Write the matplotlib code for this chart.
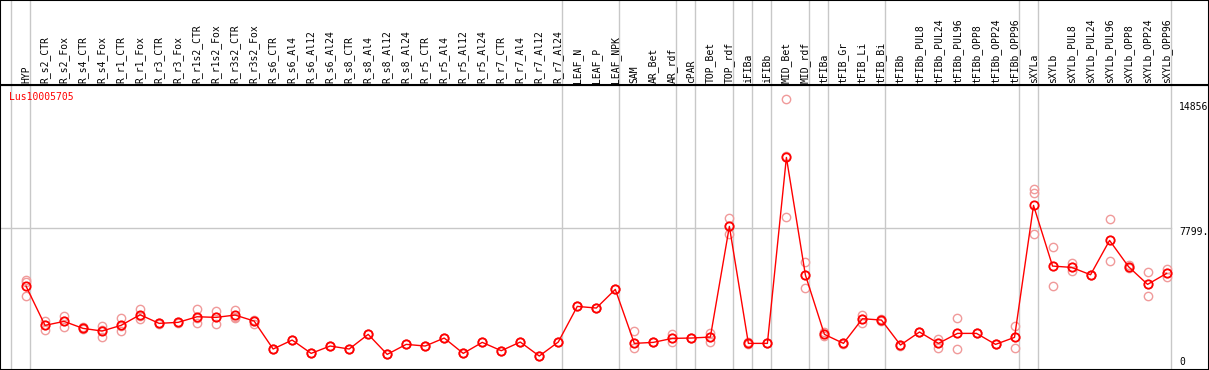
import numpy as np
import matplotlib
matplotlib.use('Agg')
import matplotlib.pyplot as plt

###DATA###
gene = 'Lus10005705'
samples = ['HYP', 'R_s2_CTR', 'R_s2_Fox', 'R_s4_CTR', 'R_s4_Fox', 'R_r1_CTR', 'R_r1_Fox',
           'R_r3_CTR', 'R_r3_Fox', 'R_r1s2_CTR', 'R_r1s2_Fox', 'R_r3s2_CTR', 'R_r3s2_Fox',
           'R_s6_CTR', 'R_s6_Al4', 'R_s6_Al12', 'R_s6_Al24', 'R_s8_CTR', 'R_s8_Al4',
           'R_s8_Al12', 'R_s8_Al24', 'R_r5_CTR', 'R_r5_Al4', 'R_r5_Al12', 'R_r5_Al24',
           'R_r7_CTR', 'R_r7_Al4', 'R_r7_Al12', 'R_r7_Al24', 'LEAF_N', 'LEAF_P', 'LEAF_NPK',
           'SAM', 'AR_Bet', 'AR_rdf', 'cPAR', 'TOP_Bet', 'TOP_rdf', 'iFIBa', 'iFIBb',
           'MID_Bet', 'MID_rdf', 'tFIBa', 'tFIB_Gr', 'tFIB_Li', 'tFIB_Bi', 'tFIBb',
           'tFIBb_PUL8', 'tFIBb_PUL24', 'tFIBb_PUL96', 'tFIBb_OPP8', 'tFIBb_OPP24',
           'tFIBb_OPP96', 'sXYLa', 'sXYLb', 'sXYLb_PUL8', 'sXYLb_PUL24', 'sXYLb_PUL96',
           'sXYLb_OPP8', 'sXYLb_OPP24', 'sXYLb_OPP96']

mean_vals = [4669, 2534, 2751, 2371, 2226, 2534, 3111, 2643, 2698, 3002, 2968, 3094, 2769,
             1249, 1737, 1013, 1412, 1249, 2045, 959, 1502, 1412, 1846, 1013, 1611, 1158,
             1629, 869, 1629, 3565, 3475, 4488, 1556, 1611, 1828, 1846, 1900, 7909, 1556,
             1556, 11656, 5266, 2045, 1556, 2895, 2823, 1466, 2172, 1556, 2099, 2099, 1502,
             1882, 9049, 5755, 5683, 5284, 7148, 5719, 4760, 5357]

rep_a = [4995, 2785, 3057, 2420, 2497, 2915, 3404, 2680, 2740, 3404, 3312, 3366, 2823,
         1249, 1737, 1013, 1412, 1249, 2045, 959, 1502, 1412, 1846, 1013, 1611, 1158,
         1629, 869, 1629, 3565, 3475, 4488, 2226, 1650, 2063, 1846, 2099, 8361, 1630,
         1556, 14856, 5954, 2150, 1600, 3076, 2880, 1466, 2172, 1792, 2915, 2099, 1502,
         2497, 9935, 6786, 5900, 5284, 8288, 5800, 5411, 5574]
rep_b = [4870, 2534, 2770, 2371, 2300, 2480, 3070, 2643, 2698, 2960, 3000, 3000, 2769,
         1249, 1737, 1013, 1412, 1249, 2045, 959, 1502, 1412, 1846, 1013, 1611, 1158,
         1629, 869, 1629, 3565, 3475, 4488, 1321, 1611, 1611, 1846, 1647, 7492, 1500,
         1556, 8397, 4542, 1980, 1500, 2643, 2780, 1400, 2172, 1321, 1231, 2099, 1502,
         1285, 9700, 4669, 5501, 5284, 6026, 5650, 4126, 5140]
rep_c = [4126, 2280, 2425, 2320, 1883, 2209, 2861, 2600, 2660, 2643, 2588, 2915, 2588,
         1249, 1737, 1013, 1412, 1249, 2045, 959, 1502, 1412, 1846, 1013, 1611, 1158,
         1629, 869, 1629, 3565, 3475, 4488, 1556, 1611, 1828, 1846, 1900, 7909, 1556,
         1556, 11715, 5266, 2045, 1556, 2895, 2823, 1466, 2172, 1556, 2099, 2099, 1502,
         1882, 7474, 5755, 5683, 5284, 7148, 5719, 4760, 5357]

# sample index after which a grey separator is drawn
group_ends = [-1, 0, 28, 31, 34, 35, 37, 38, 39, 41, 42, 45, 52, 53, 60]
y_max_label = '14856'
y_mid = 7799
y_mid_label = '7799.'

###PLOT###
W, H = 1209, 370
head = 85
fnt = dict(family='DejaVu Sans Mono', size=7)
grey = '#c8c8c8'

fig = plt.figure(figsize=(W / 100, H / 100), dpi=100)
ax = fig.add_axes([0, 0, 1, (H - head) / H])
axh = fig.add_axes([0, (H - head) / H, 1, head / H])

x = np.arange(len(samples))
x_lo = -26 / 19.01
x_hi = (W - 26) / 19.01
for a in (ax, axh):
    a.set_xlim(x_lo, x_hi)
    a.set_xticks([])
    a.set_yticks([])
    for s in a.spines.values():
        s.set_color('black')
        s.set_linewidth(1.5)
    for g in group_ends:
        a.axvline(g + 4 / 19.01, color=grey, lw=1, zorder=0)
axh.set_ylim(0, 1)
ax.set_ylim(110, 15590)
ax.axhline(y_mid, color=grey, lw=1, xmax=(60 + 4 / 19.01 - x_lo) / (x_hi - x_lo), zorder=0)

for lab, xi in zip(samples, x):
    axh.text(xi, 2 / head, lab, rotation=90, ha='center', va='bottom', **fnt)

for reps in (rep_a, rep_b, rep_c):
    ax.plot(x, reps, 'o', ls='none', mfc='none', mec='#f09a9a', ms=6, mew=1.0, zorder=2)
ax.plot(x, mean_vals, '-', color='red', lw=1, zorder=3)
ax.plot(x, mean_vals, 'o', ls='none', mfc='none', mec='red', ms=6, mew=1.3, zorder=4)

fig.text(9 / W, 1 - 97 / H, gene, color='red', ha='left', va='center', **fnt)
fig.text(1179 / W, 1 - 107 / H, y_max_label, ha='left', va='center', **fnt)
fig.text(1179 / W, 1 - 232 / H, y_mid_label, ha='left', va='center', **fnt)
fig.text(1179 / W, 1 - 362 / H, '0', ha='left', va='center', **fnt)

fig.savefig('out.png', dpi=100)
